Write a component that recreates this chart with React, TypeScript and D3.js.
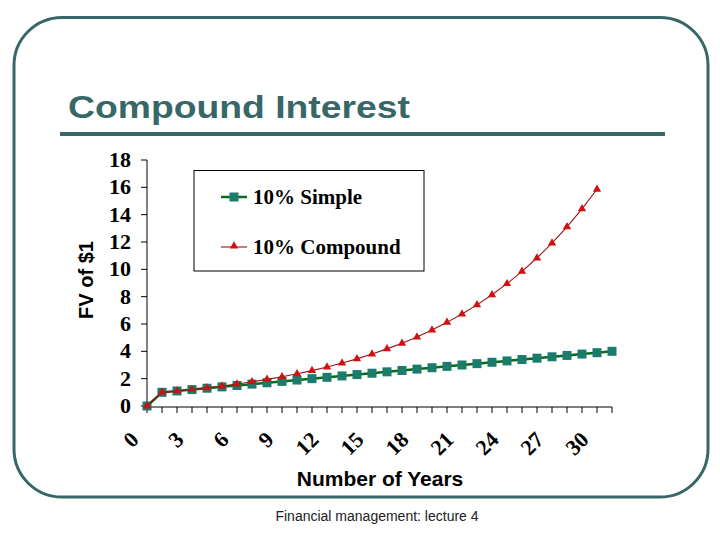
import React from "react";
import * as d3 from "d3";

const years: number[] = Array.from({ length: 32 }, (_, i) => i);
const simpleValues: number[] = [
  0, 1.0, 1.1, 1.2, 1.3, 1.4, 1.5, 1.6, 1.7, 1.8, 1.9, 2.0, 2.1, 2.2, 2.3, 2.4,
  2.5, 2.6, 2.7, 2.8, 2.9, 3.0, 3.1, 3.2, 3.3, 3.4, 3.5, 3.6, 3.7, 3.8, 3.9, 4.0,
];
const compoundValues: number[] = [
  0, 1.0, 1.1, 1.21, 1.33, 1.46, 1.61, 1.77, 1.95, 2.14, 2.36, 2.59, 2.85, 3.14,
  3.45, 3.8, 4.18, 4.59, 5.05, 5.56, 6.12, 6.73, 7.4, 8.14, 8.95, 9.85, 10.83,
  11.92, 13.11, 14.42, 15.86,
];
const yTicks: number[] = [0, 2, 4, 6, 8, 10, 12, 14, 16, 18];
const xTickLabels: number[] = [0, 3, 6, 9, 12, 15, 18, 21, 24, 27, 30];
const seriesNames: string[] = ["10% Simple", "10% Compound"];

const TEAL = "#376767";
const SERIF = "'Liberation Serif', 'Times New Roman', serif";
const SANS = "'Liberation Sans', Arial, sans-serif";

export default function App() {
  const x = d3.scaleLinear().domain([0, 31]).range([147, 612]);
  const y = d3.scaleLinear().domain([0, 18]).range([406, 160]);
  const line = d3
    .line<number>()
    .x((_, i) => x(years[i]))
    .y((d) => y(d));
  const tri = d3.symbol().type(d3.symbolTriangle).size(30)() as string;
  const xTicks = d3.range(0, 32);

  return (
    <svg
      width={720}
      height={540}
      style={{ position: "absolute", left: 0, top: 0, background: "#fff" }}
    >
      <rect x={0} y={0} width={720} height={540} fill="#fff" />
      {/* slide border */}
      <rect x={14} y={17.5} width={694} height={479.5} rx={48} ry={48} fill="none" stroke={TEAL} strokeWidth={3} />
      {/* title */}
      <text x={68} y={118} fontFamily={SANS} fontWeight="bold" fontSize={31} fill={TEAL} textLength={342} lengthAdjust="spacingAndGlyphs">
        Compound Interest
      </text>
      <rect x={60} y={132} width={605} height={4} fill={TEAL} />

      {/* y axis */}
      <line x1={147} x2={147} y1={y(18)} y2={y(0)} stroke="#000" strokeWidth={1} />
      {yTicks.map((t) => (
        <g key={t}>
          <line x1={141} x2={147} y1={y(t)} y2={y(t)} stroke="#000" />
          <text x={131} y={y(t) + 7} textAnchor="end" fontFamily={SERIF} fontWeight="bold" fontSize={22} fill="#000">
            {t}
          </text>
        </g>
      ))}
      {/* x axis */}
      <line x1={147} x2={612} y1={y(0) + 1} y2={y(0) + 1} stroke="#000" />
      {xTicks.map((t) => (
        <line key={t} x1={x(t)} x2={x(t)} y1={y(0) + 1} y2={y(0) + 7} stroke="#000" />
      ))}
      {xTickLabels.map((t) => (
        <text
          key={t}
          transform={`translate(${x(t) - 7},${y(0) + 35}) rotate(-45)`}
          textAnchor="end"
          fontFamily={SERIF}
          fontWeight="bold"
          fontSize={22}
          fill="#000"
        >
          {t}
        </text>
      ))}

      {/* axis titles */}
      <text x={380} y={486} textAnchor="middle" fontFamily={SANS} fontWeight="bold" fontSize={21} fill="#000">
        Number of Years
      </text>
      <text transform="translate(93,280) rotate(-90)" textAnchor="middle" fontFamily={SANS} fontWeight="bold" fontSize={20} fill="#000">
        FV of $1
      </text>

      {/* series: simple */}
      <path d={line(simpleValues) || ""} fill="none" stroke="#0a6a1a" strokeWidth={2.5} />
      {simpleValues.map((v, i) => (
        <rect key={i} x={x(years[i]) - 4.5} y={y(v) - 4.5} width={9} height={9} fill="#1b7b6c" />
      ))}
      {/* series: compound */}
      <path d={line(compoundValues) || ""} fill="none" stroke="#a01010" strokeWidth={1.1} />
      {compoundValues.map((v, i) => (
        <path key={i} d={tri} transform={`translate(${x(years[i])},${y(v)})`} fill="#d01010" />
      ))}

      {/* legend */}
      <rect x={194} y={170.5} width={230} height={100.5} fill="#fff" stroke="#000" strokeWidth={1} />
      <line x1={221} x2={247} y1={197} y2={197} stroke="#0a6a1a" strokeWidth={2.5} />
      <rect x={229.5} y={192.5} width={9} height={9} fill="#1b7b6c" />
      <text x={253} y={204} fontFamily={SERIF} fontWeight="bold" fontSize={21} fill="#000">
        {seriesNames[0]}
      </text>
      <line x1={221} x2={247} y1={247} y2={247} stroke="#a01010" strokeWidth={1.1} />
      <path d={tri} transform="translate(234,246)" fill="#d01010" />
      <text x={253} y={254} fontFamily={SERIF} fontWeight="bold" fontSize={21} fill="#000">
        {seriesNames[1]}
      </text>

      {/* footer */}
      <text x={377} y={521} textAnchor="middle" fontFamily={SANS} fontSize={14} fill="#222">
        Financial management: lecture 4
      </text>
    </svg>
  );
}
